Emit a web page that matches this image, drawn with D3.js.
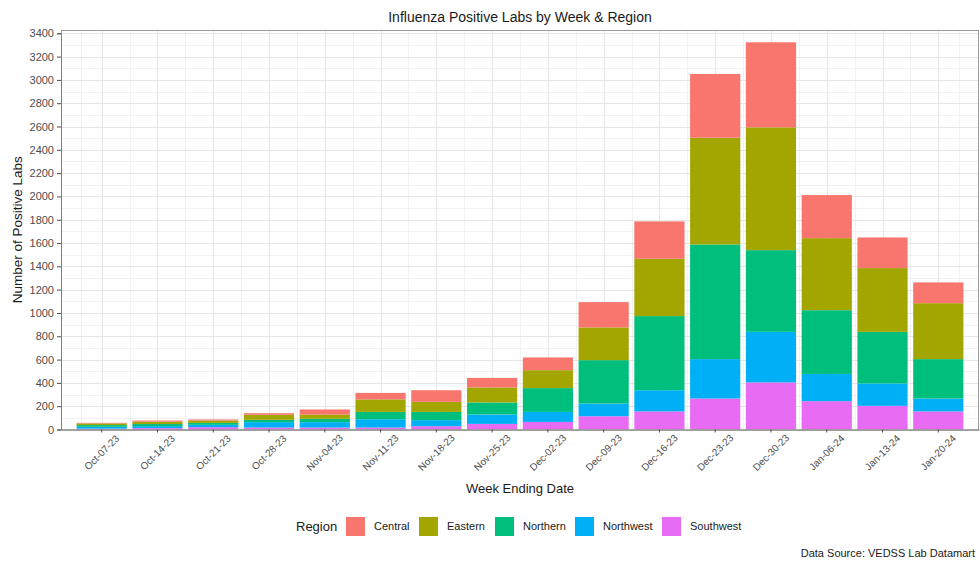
<!DOCTYPE html>
<html><head><meta charset="utf-8">
<script src="https://cdn.jsdelivr.net/npm/d3@7"></script>
<style>body{margin:0;background:#fff;} svg{display:block;font-family:"Liberation Sans",Arial,sans-serif;}</style>
</head><body>
<svg id="c" width="980" height="562"></svg>
<script>
const weeks = ["Oct-07-23","Oct-14-23","Oct-21-23","Oct-28-23","Nov-04-23","Nov-11-23","Nov-18-23","Nov-25-23","Dec-02-23","Dec-09-23","Dec-16-23","Dec-23-23","Dec-30-23","Jan-06-24","Jan-13-24","Jan-20-24"];
const regions = ["Central","Eastern","Northern","Northwest","Southwest"];
const colors = ["#F8766D","#A3A500","#00BF7D","#00B0F6","#E76BF3"];
const central   = [5, 10, 9, 14, 43, 56, 100, 82, 109, 217, 321, 547, 730, 370, 263, 178];
const eastern   = [14, 20, 20, 43, 37, 107, 86, 129, 154, 281, 492, 916, 1054, 618, 547, 480];
const northern  = [15, 18, 17, 20, 29, 63, 71, 103, 204, 372, 636, 984, 701, 547, 443, 338];
const northwest = [16, 17, 20, 46, 46, 71, 52, 81, 86, 109, 182, 338, 434, 234, 192, 111];
const southwest = [7, 12, 20, 17, 17, 17, 28, 48, 65, 114, 155, 266, 404, 243, 203, 155];
const yTicks = d3.range(0, 3401, 200);

const rows = weeks.map((w,i)=>({week:w, Central:central[i], Eastern:eastern[i], Northern:northern[i], Northwest:northwest[i], Southwest:southwest[i]}));
const stackOrder = ["Southwest","Northwest","Northern","Eastern","Central"];
const series = d3.stack().keys(stackOrder)(rows);
const color = d3.scaleOrdinal().domain(regions).range(colors);

const svg = d3.select("#c");
const L=61, R=979, T=30, B=429.5;
const x = d3.scaleBand().domain(weeks).range([L,R]).paddingInner(0.1).paddingOuter(0.28);
const y = d3.scaleLinear().domain([0,3400]).range([B,33.3]);

// grid
const g = svg.append("g");
const minorY = d3.range(100, 3401, 200);
g.selectAll(".mny").data(minorY).join("line").attr("x1",L).attr("x2",R)
  .attr("y1",d=>Math.round(y(d))+0.5).attr("y2",d=>Math.round(y(d))+0.5).attr("stroke","#f2f2f2");
const midX = weeks.slice(0,-1).map((w,i)=>(x(w)+x(weeks[i+1]))/2 + x.bandwidth()/2);
g.selectAll(".mnx").data([L + (x(weeks[0])+x.bandwidth()/2 - L)/2, ...midX, R - (R - x(weeks[weeks.length-1]) - x.bandwidth()/2)/2]).join("line")
  .attr("x1",d=>Math.round(d)+0.5).attr("x2",d=>Math.round(d)+0.5).attr("y1",T).attr("y2",B).attr("stroke","#f2f2f2");
g.selectAll(".mjy").data(yTicks).join("line").attr("x1",L).attr("x2",R)
  .attr("y1",d=>Math.round(y(d))+0.5).attr("y2",d=>Math.round(y(d))+0.5).attr("stroke","#e6e6e6");
g.selectAll(".mjx").data(weeks).join("line")
  .attr("x1",d=>Math.round(x(d)+x.bandwidth()/2)+0.5).attr("x2",d=>Math.round(x(d)+x.bandwidth()/2)+0.5)
  .attr("y1",T).attr("y2",B).attr("stroke","#e6e6e6");

// bars
svg.append("g").selectAll("g").data(series).join("g").attr("fill",d=>color(d.key))
  .selectAll("rect").data(d=>d).join("rect")
  .attr("x",d=>x(d.data.week)).attr("width",x.bandwidth())
  .attr("y",d=>y(d[1])).attr("height",d=>y(d[0])-y(d[1]));

// border
svg.append("rect").attr("x",L+0.5).attr("y",T+0.5).attr("width",R-L-1).attr("height",B-T)
  .attr("fill","none").attr("stroke","#9a9a9a");

// axes
const yAxis = svg.append("g").attr("transform",`translate(${L},0)`)
  .call(d3.axisLeft(y).tickValues(yTicks).tickFormat(d3.format("d")).tickSize(4).tickPadding(3));
yAxis.select(".domain").attr("stroke","#7f7f7f");
yAxis.selectAll(".tick line").attr("stroke","#4d4d4d");
yAxis.selectAll(".tick text").attr("fill","#4d4d4d").style("font-size","11px").style("font-family","Liberation Sans, Arial, sans-serif");

const xAxis = svg.append("g").attr("transform",`translate(0,${B})`)
  .call(d3.axisBottom(x).tickSize(3).tickSizeOuter(0));
xAxis.select(".domain").attr("stroke","#7f7f7f");
xAxis.selectAll(".tick line").attr("stroke","#4d4d4d");
xAxis.selectAll(".tick text").attr("fill","#4d4d4d").style("font-size","10px")
  .style("font-family","Liberation Sans, Arial, sans-serif")
  .attr("text-anchor","middle").attr("dy",null).attr("y",null)
  .attr("dominant-baseline","central")
  .attr("transform","translate(0,23) rotate(-45)");

// titles
svg.append("text").attr("x",(L+R)/2).attr("y",22).attr("text-anchor","middle")
  .style("font-size","14px").attr("fill","#1a1a1a").text("Influenza Positive Labs by Week & Region");
svg.append("text").attr("transform",`translate(22,${(T+B)/2}) rotate(-90)`).attr("text-anchor","middle")
  .style("font-size","13.5px").attr("fill","#1a1a1a").text("Number of Positive Labs");
svg.append("text").attr("x",(L+R)/2).attr("y",493).attr("text-anchor","middle")
  .style("font-size","13px").attr("fill","#1a1a1a").text("Week Ending Date");

// legend
const lg = svg.append("g");
lg.append("text").attr("x",296).attr("y",531).style("font-size","13px").attr("fill","#1a1a1a").text("Region");
const keyX = [346, 419, 495, 575, 662];
regions.forEach((r,i)=>{
  lg.append("rect").attr("x",keyX[i]).attr("y",517).attr("width",19).attr("height",19).attr("fill",colors[i]);
  lg.append("text").attr("x",keyX[i]+28).attr("y",530).style("font-size","11px").attr("fill","#1a1a1a").text(r);
});

svg.append("text").attr("x",975).attr("y",557).attr("text-anchor","end")
  .style("font-size","11px").attr("fill","#1a1a1a").text("Data Source: VEDSS Lab Datamart");
</script>
</body></html>
